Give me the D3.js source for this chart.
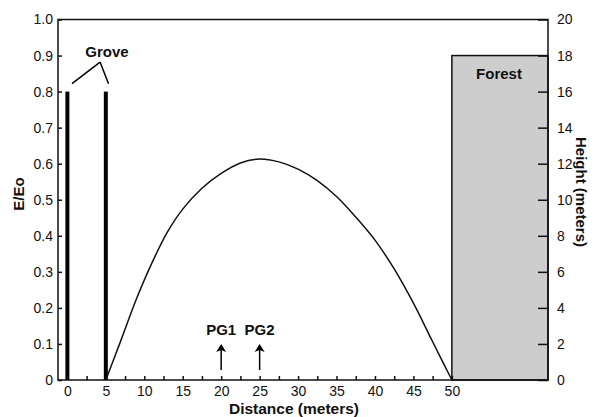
<!DOCTYPE html>
<html>
<head>
<meta charset="utf-8">
<script src="https://cdn.jsdelivr.net/npm/d3@7"></script>
<style>
  body { margin: 0; background: #fff; }
  text { font-family: "Liberation Sans", Arial, sans-serif; fill: #111; }
</style>
</head>
<body>
<div id="chart"></div>
<script>
// distance (m) and relative evaporation E/Eo across the clearing
const distance = [5, 7, 9, 11, 13, 15, 17.5, 20, 22.5, 25, 27.5, 30, 32.5, 35, 37.5, 40, 42.5, 45, 47.5, 50];
const eRatio = [0, 0.112, 0.226, 0.325, 0.41, 0.474, 0.532, 0.573, 0.602, 0.613, 0.605, 0.585, 0.553, 0.509, 0.452, 0.388, 0.308, 0.213, 0.106, 0];

// grove trees (distance, E/Eo-scale height) and forest edge (height in meters)
const groveTrees = [0, 5];
const groveHeight = 0.8;
const forestStart = 50;
const forestHeight = 18;

// PG markers
const pgNames = ["PG1", "PG2"];
const pgDistance = [20, 25];

const xTicks = d3.range(0, 50.1, 2.5);
const xLabels = d3.range(0, 51, 5);
const leftTicks = d3.range(0, 1.01, 0.1);
const rightTicks = d3.range(0, 21, 2);

const width = 603, height = 417;
const margin = {left: 58, right: 55, top: 19.5, bottom: 37};
const fontFamily = "Liberation Sans, Arial, sans-serif";

const svg = d3.select("#chart").append("svg")
    .attr("width", width)
    .attr("height", height);

const x = d3.scaleLinear().domain([-1.22, 62.5]).range([margin.left, width - margin.right]);
const y = d3.scaleLinear().domain([0, 1]).range([height - margin.bottom, margin.top]);
const yRight = d3.scaleLinear().domain([0, 20]).range([height - margin.bottom, margin.top]);

// forest block
svg.append("rect")
    .attr("x", x(forestStart))
    .attr("y", yRight(forestHeight))
    .attr("width", x.range()[1] - x(forestStart))
    .attr("height", yRight(0) - yRight(forestHeight))
    .attr("fill", "#cdcdcd")
    .attr("stroke", "#111")
    .attr("stroke-width", 1.5);

svg.append("text")
    .attr("x", 499).attr("y", 79)
    .attr("text-anchor", "middle")
    .attr("font-size", 15).attr("font-weight", "bold")
    .text("Forest");

// grove bars
svg.selectAll(".grove")
    .data(groveTrees)
    .enter().append("rect")
    .attr("class", "grove")
    .attr("x", d => x(d) - 2)
    .attr("y", y(groveHeight))
    .attr("width", 4)
    .attr("height", y(0) - y(groveHeight))
    .attr("fill", "#000");

svg.append("text")
    .attr("x", 107).attr("y", 57)
    .attr("text-anchor", "middle")
    .attr("font-size", 15).attr("font-weight", "bold")
    .text("Grove");

const apex = [4.25, 0.882];
[[0.6, 0.822], [5.35, 0.822]].forEach(function (p) {
    svg.append("line")
        .attr("x1", x(apex[0])).attr("y1", y(apex[1]))
        .attr("x2", x(p[0])).attr("y2", y(p[1]))
        .attr("stroke", "#000").attr("stroke-width", 1.5);
});

// E/Eo curve
const line = d3.line()
    .x(d => x(d[0]))
    .y(d => y(d[1]))
    .curve(d3.curveCatmullRom.alpha(0.5));

svg.append("path")
    .datum(d3.zip(distance, eRatio))
    .attr("d", line)
    .attr("fill", "none")
    .attr("stroke", "#111")
    .attr("stroke-width", 1.5);

// PG arrows
pgDistance.forEach(function (d, i) {
    const px = x(d);
    svg.append("line")
        .attr("x1", px).attr("x2", px)
        .attr("y1", 370).attr("y2", 350)
        .attr("stroke", "#000").attr("stroke-width", 1.5);
    svg.append("path")
        .attr("d", "M" + px + ",344 L" + (px - 5) + ",352 L" + px + ",350 L" + (px + 5) + ",352 Z")
        .attr("fill", "#000");
    svg.append("text")
        .attr("x", px).attr("y", 335)
        .attr("text-anchor", "middle")
        .attr("font-size", 15).attr("font-weight", "bold")
        .text(pgNames[i]);
});

// frame
svg.append("rect")
    .attr("x", margin.left).attr("y", margin.top)
    .attr("width", width - margin.left - margin.right)
    .attr("height", height - margin.top - margin.bottom)
    .attr("fill", "none")
    .attr("stroke", "#111")
    .attr("stroke-width", 1.5);

// axes
svg.append("g")
    .attr("transform", "translate(0," + y(0) + ")")
    .call(d3.axisBottom(x).tickValues(xTicks).tickSizeInner(-4).tickSizeOuter(0).tickFormat(""))
    .call(g => g.select(".domain").remove());

svg.append("g")
    .attr("transform", "translate(0," + y(0) + ")")
    .call(d3.axisBottom(x).tickValues(xLabels).tickSize(0).tickPadding(6).tickFormat(d3.format("d")))
    .call(g => g.select(".domain").remove())
    .selectAll("text").attr("font-size", 14).attr("font-family", fontFamily);

svg.append("g")
    .attr("transform", "translate(" + margin.left + ",0)")
    .call(d3.axisLeft(y).tickValues(leftTicks).tickSizeInner(-4).tickSizeOuter(0).tickPadding(5)
        .tickFormat(d => d === 0 ? "0" : d3.format(".1f")(d)))
    .call(g => g.select(".domain").remove())
    .selectAll("text").attr("font-size", 14).attr("font-family", fontFamily);

svg.append("g")
    .attr("transform", "translate(" + (width - margin.right) + ",0)")
    .call(d3.axisRight(yRight).tickValues(rightTicks).tickSizeInner(-10).tickSizeOuter(0).tickPadding(9)
        .tickFormat(d3.format("d")))
    .call(g => g.select(".domain").remove())
    .selectAll("text").attr("font-size", 14).attr("font-family", fontFamily);

svg.selectAll(".tick line").attr("stroke", "#111").attr("stroke-width", 1.5);

// axis titles
svg.append("text")
    .attr("transform", "translate(24,194) rotate(-90)")
    .attr("text-anchor", "middle")
    .attr("font-size", 15).attr("font-weight", "bold")
    .text("E/Eo");

svg.append("text")
    .attr("transform", "translate(576,192) rotate(90)")
    .attr("text-anchor", "middle")
    .attr("font-size", 15).attr("font-weight", "bold")
    .text("Height (meters)");

svg.append("text")
    .attr("x", 294).attr("y", 414)
    .attr("text-anchor", "middle")
    .attr("font-size", 15.5).attr("font-weight", "bold")
    .text("Distance (meters)");
</script>
</body>
</html>
